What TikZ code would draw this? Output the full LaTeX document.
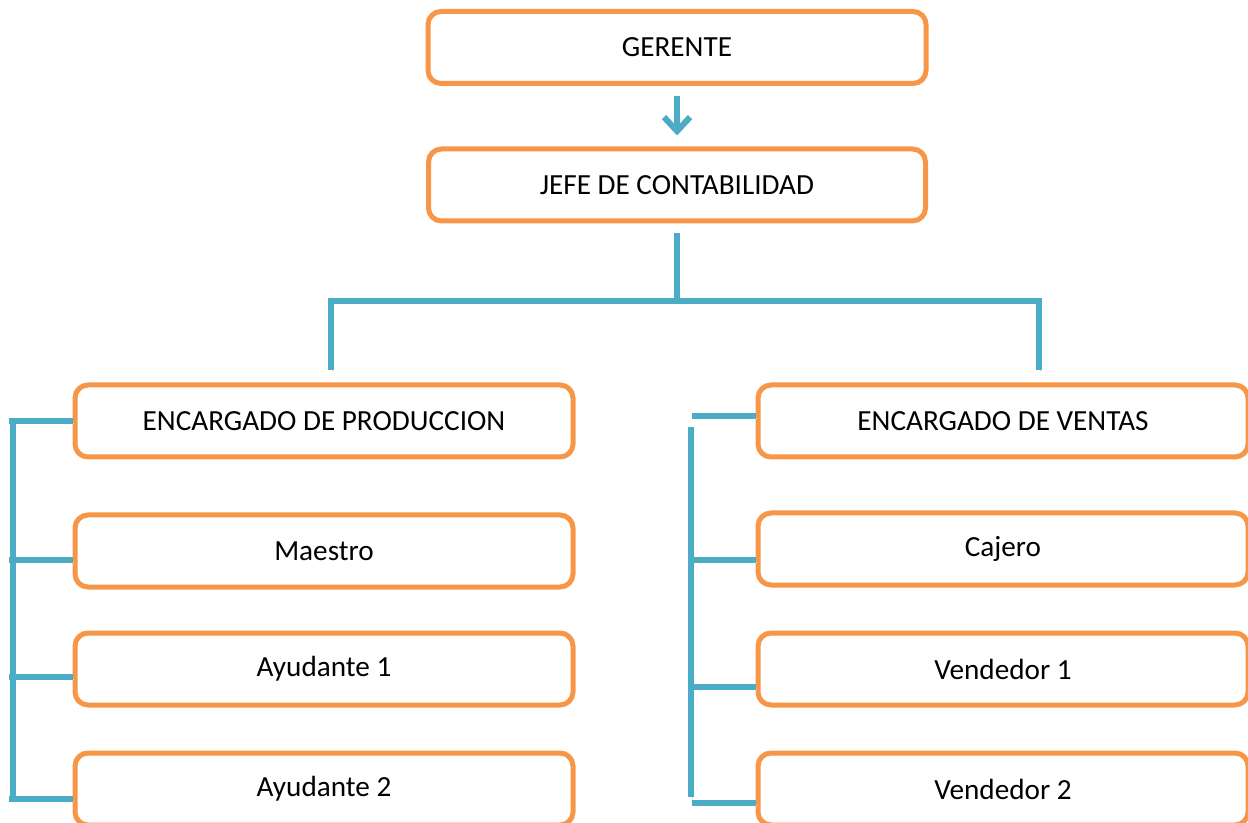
\documentclass[tikz,border=0pt]{standalone}
\usepackage{fontspec}
\setmainfont{Carlito}
\usepackage{tikz}
\usetikzlibrary{arrows.meta}
\definecolor{naranja}{HTML}{F79646}
\definecolor{celeste}{HTML}{4BACC6}

\begin{document}
\begin{tikzpicture}[x=0.5pt,y=0.5pt]
        \tikzstyle{every node}+=[inner sep=0pt]
        \tikzstyle{puesto}=[draw=naranja, line width=2.5pt, rounded corners=6.5pt, fill=white, minimum height=36pt, font=\fontsize{14.6pt}{17pt}\selectfont]
        \tikzstyle{izq}=[puesto, minimum width=249pt]
        \tikzstyle{der}=[puesto, minimum width=245pt]
        \tikzstyle{linea}=[draw=celeste, line width=3pt, preaction={draw=black!12, transform canvas={xshift=0.8pt, yshift=-1.2pt}}]
        \useasboundingbox (0,0) rectangle (1248,-823);
        \node [puesto, minimum width=249pt] (gerente) at (677,-47.5) {GERENTE};
        \node [puesto, minimum width=248.5pt] (jefe) at (677,-185) {JEFE DE CONTABILIDAD};
        \node [izq] (prod) at (324,-421) {ENCARGADO DE PRODUCCION};
        \node [izq] (maestro) at (324,-551) {Maestro};
        \node [izq] (ayud1) at (324,-669) {Ayudante 1};
        \node [izq] (ayud2) at (324,-789) {Ayudante 2};
        \node [der] (ventas) at (1003,-421) {ENCARGADO DE VENTAS};
        \node [der] (cajero) at (1003,-549) {Cajero};
        \node [der] (vend1) at (1003,-669) {Vendedor 1};
        \node [der] (vend2) at (1003,-789) {Vendedor 2};
        \draw [linea, -{Straight Barb[length=7pt, width=13pt]}, shorten <=5.25pt, shorten >=5.5pt] (gerente.south) -- (jefe.north);
        \coordinate (rama) at (677,-301);
        \draw [linea, shorten <=4.75pt] (jefe.south) -- (rama);
        \draw [linea, shorten >=6.25pt] (rama) -| ([xshift=3.5pt]prod.north);
        \draw [linea, shorten >=6.25pt] (rama) -| ([xshift=18pt]ventas.north);
        \coordinate (izqa) at (9,-421);
        \draw [linea] (izqa) -- (prod.west);
        \draw [linea] (12.5,-424) coordinate (izqb) -- (12.5,-799) coordinate (izqc);
        \foreach \n/\d in {maestro/-4.5, ayud1/-4, ayud2/-5}
        {
            \coordinate (s\n) at ([yshift=\d pt]\n.west);
            \draw [linea] (izqa |- s\n) -- (s\n);
        }
        \coordinate (dera) at (692,-416);
        \draw [linea] (dera) -- (dera -| ventas.west);
        \draw [linea] (691,-427) coordinate (derb) -- (691,-797) coordinate (derc);
        \foreach \n/\d in {cajero/-5.5, vend1/-9, vend2/-7}
        {
            \coordinate (s\n) at ([yshift=\d pt]\n.west);
            \draw [linea] (dera |- s\n) -- (s\n);
        }
\end{tikzpicture}
\end{document}
